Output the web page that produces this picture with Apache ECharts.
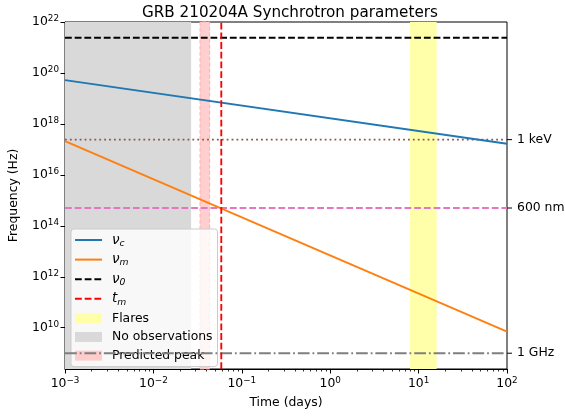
<!DOCTYPE html>
<html>
<head>
<meta charset="utf-8">
<script src="https://cdn.jsdelivr.net/npm/echarts@6/dist/echarts.min.js"></script>
<style>html,body{margin:0;padding:0;background:#fff}#c{width:565px;height:416px}</style>
</head>
<body>
<div id="c"></div>
<script>
// ---- data ----
const timeRange = [1e-3, 1e2];          // days
const freqRange = [2.4e8, 1e22];        // Hz
const nuC = [5.2e19, 1.66e17];          // at timeRange ends
const nuM = [2.1e17, 7.0e9];            // at timeRange ends
const nu0 = 2.4e21;
const tM = 0.0586;
const flares = [8, 16];
const noObs = [1e-3, 0.0267];
const predictedPeak = [0.0337, 0.0433];
const refNames = ['1 keV', '600 nm', '1 GHz'];
const refValues = [2.418e17, 5.0e14, 1e9];
const xMajorTicks = [1e-3, 1e-2, 1e-1, 1e0, 1e1, 1e2];
const yMajorTicks = [1e10, 1e12, 1e14, 1e16, 1e18, 1e20, 1e22];

const xMinorTicks = [];
for (let d = -3; d < 2; d++) for (let k = 2; k <= 9; k++) xMinorTicks.push(k * Math.pow(10, d));

const FONT = 'DejaVu Sans';
const FS = 12.4;
const supRich = { sup: { fontSize: 8.8, fontFamily: FONT, color: '#000', verticalAlign: 'bottom', padding: [0, 0, 7, 0] } };
const expLabel = v => {
  const e = Math.round(Math.log10(v));
  return '10{sup|' + (e < 0 ? '\u2212' + (-e) : e) + '}';
};

const legendText = {
  'nu_c': '{g|\u03bd}{s|c}',
  'nu_m': '{g|\u03bd}{s|m}',
  'nu_0': '{g|\u03bd}{s|0}',
  't_m': '{g|t}{s|m}'
};

const refStyles = [
  { color: '#8c564b', type: [1.8, 3.1] },
  { color: '#e377c2', type: [6.8, 2.9] },
  { color: '#7f7f7f', type: [11.8, 2.9, 1.8, 2.9] }
];

const series = [
  { name: 'nu_c', type: 'line', data: [[timeRange[0], nuC[0]], [timeRange[1], nuC[1]]], symbol: 'none', z: 5,
    color: '#1f77b4', lineStyle: { color: '#1f77b4', width: 1.85 } },
  { name: 'nu_m', type: 'line', data: [[timeRange[0], nuM[0]], [timeRange[1], nuM[1]]], symbol: 'none', z: 5,
    color: '#ff7f0e', lineStyle: { color: '#ff7f0e', width: 1.85 } },
  { name: 'nu_0', type: 'line', data: [[timeRange[0], nu0], [timeRange[1], nu0]], symbol: 'none', z: 5,
    color: '#000', lineStyle: { color: '#000', width: 1.85, type: [6.8, 2.9] } },
  { name: 't_m', type: 'line', data: [[tM, freqRange[0]], [tM, freqRange[1]]], symbol: 'none', z: 5,
    color: '#ff0000', lineStyle: { color: '#ff0000', width: 1.85, type: [6.8, 2.9] } },
  { name: 'Flares', type: 'line', data: [], symbol: 'none', z: 1, color: '#ffffaa',
    markArea: { silent: true, itemStyle: { color: '#ffffaa' }, data: [[{ xAxis: flares[0] }, { xAxis: flares[1] }]] } },
  { name: 'No observations', type: 'line', data: [], symbol: 'none', z: 1, color: '#d9d9d9',
    markArea: { silent: true, itemStyle: { color: '#d9d9d9' }, data: [[{ xAxis: noObs[0] }, { xAxis: noObs[1] }]] } },
  { name: 'Predicted peak', type: 'line', data: [], symbol: 'none', z: 1, color: '#ffcccc',
    markArea: { silent: true, itemStyle: { color: '#ffcfcf', borderColor: '#ffb0b0', borderWidth: 1, borderType: [4, 2] },
      data: [[{ xAxis: predictedPeak[0] }, { xAxis: predictedPeak[1] }]] } }
];

refNames.forEach((n, i) => {
  series.push({
    name: n, type: 'line', symbol: 'none', z: 4,
    data: [[timeRange[0], refValues[i]], [timeRange[1], refValues[i]]],
    lineStyle: { color: refStyles[i].color, width: 1.85, type: refStyles[i].type },
    endLabel: {
      show: true, distance: 0,
      formatter: '{t|}{l|' + n + '}',
      rich: {
        t: { width: 5, height: 1, backgroundColor: '#000' },
        l: { fontSize: FS, fontFamily: FONT, color: '#000', padding: [0, 0, 0, 5] }
      }
    }
  });
});

const lineItem = n => ({ name: n, itemStyle: { opacity: 0 } });

const chart = echarts.init(document.getElementById('c'), null, { renderer: 'canvas' });
chart.setOption({
  animation: false,
  textStyle: { fontFamily: FONT },
  title: {
    text: 'GRB 210204A Synchrotron parameters', left: 137, top: 1,
    textStyle: { fontSize: 15.2, fontWeight: 'normal', color: '#000', fontFamily: FONT }
  },
  grid: { left: 63, right: 58, top: 22, bottom: 47, show: true, borderColor: '#000', borderWidth: 1, backgroundColor: 'transparent' },
  legend: {
    orient: 'vertical', left: 71, top: 229,
    data: [lineItem('nu_c'), lineItem('nu_m'), lineItem('nu_0'), lineItem('t_m'),
      { name: 'Flares', icon: 'rect' }, { name: 'No observations', icon: 'rect' }, { name: 'Predicted peak', icon: 'rect' }],
    itemWidth: 27, itemHeight: 10, itemGap: 4.6,
    padding: [4, 5, 4, 3],
    backgroundColor: 'rgba(255,255,255,0.8)', borderColor: '#cccccc', borderWidth: 1, borderRadius: 3,
    formatter: n => legendText[n] || n,
    textStyle: {
      fontSize: FS, fontFamily: FONT, color: '#000', lineHeight: 14, padding: [0, 0, 0, 5],
      rich: {
        g: { fontSize: 13.5, fontStyle: 'italic', fontFamily: FONT, color: '#000' },
        s: { fontSize: 9.2, fontStyle: 'italic', fontFamily: FONT, color: '#000', verticalAlign: 'top', padding: [6, 0, 0, 0] }
      }
    },
    selectedMode: false
  },
  xAxis: [
    {
      type: 'log', min: timeRange[0], max: timeRange[1], logBase: 10,
      name: 'Time (days)', nameLocation: 'middle', nameGap: 28,
      nameTextStyle: { fontSize: FS, fontFamily: FONT, color: '#000' },
      axisLine: { onZero: false, lineStyle: { color: '#000', width: 1 } },
      axisTick: { customValues: xMajorTicks, length: 4.5, lineStyle: { color: '#000', width: 1 } },
      axisLabel: { customValues: xMajorTicks, formatter: expLabel, fontSize: FS, color: '#000', margin: 7, rich: supRich },
      splitLine: { show: false }
    },
    {
      type: 'log', min: timeRange[0], max: timeRange[1], logBase: 10, position: 'bottom',
      axisLine: { show: false, onZero: false },
      axisTick: { customValues: xMinorTicks, length: 2.5, lineStyle: { color: '#000', width: 0.8 } },
      axisLabel: { show: false },
      splitLine: { show: false }
    }
  ],
  yAxis: {
    type: 'log', min: freqRange[0], max: freqRange[1], logBase: 10,
    name: 'Frequency (Hz)', nameLocation: 'middle', nameGap: 45,
    nameTextStyle: { fontSize: FS, fontFamily: FONT, color: '#000' },
    axisLine: { onZero: false, lineStyle: { color: '#000', width: 1 } },
    axisTick: { customValues: yMajorTicks, length: 4.5, lineStyle: { color: '#000', width: 1 } },
    axisLabel: { customValues: yMajorTicks, formatter: expLabel, fontSize: FS, color: '#000', margin: 6, rich: supRich },
    splitLine: { show: false }
  },
  series: series
});
</script>
</body>
</html>
